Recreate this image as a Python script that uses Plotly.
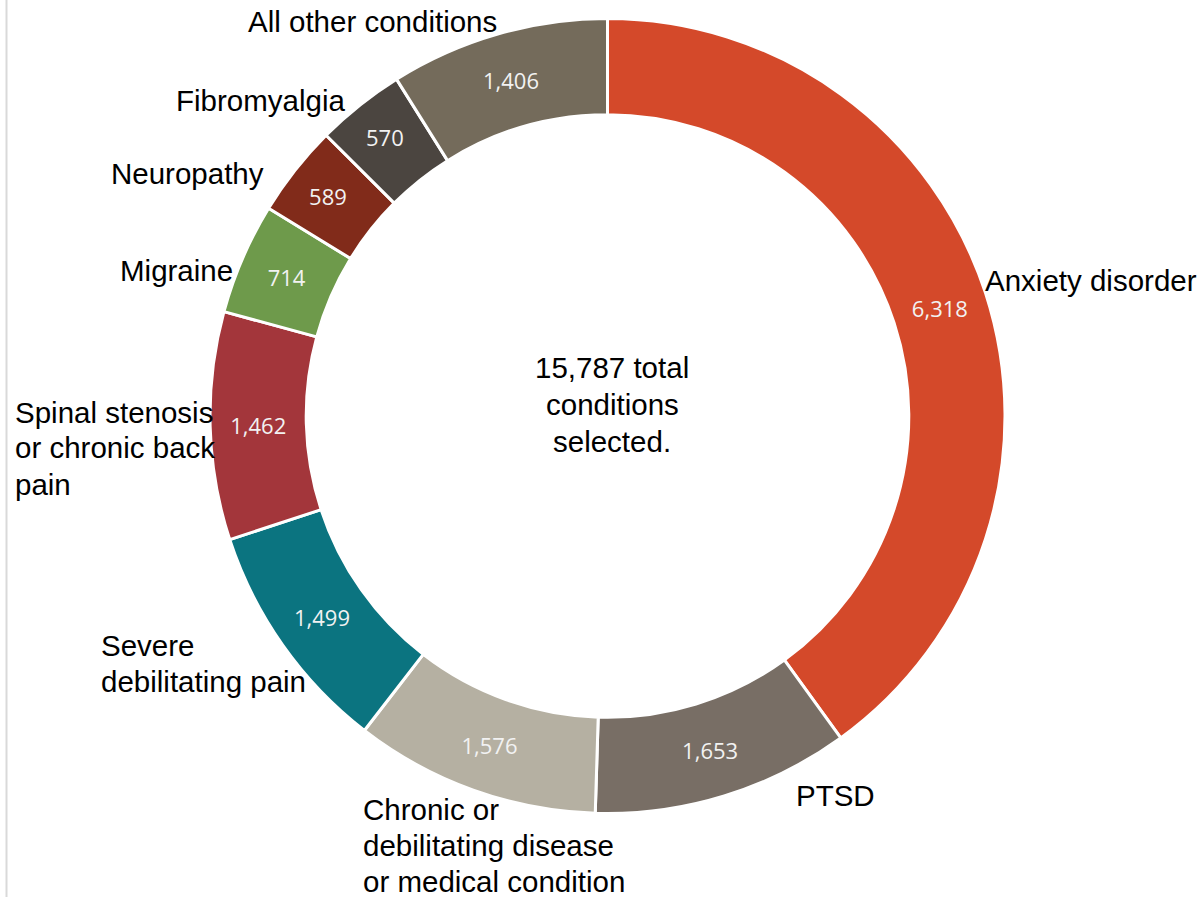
import plotly.graph_objects as go

W, H = 1201, 897

categories = ["Anxiety disorder", "PTSD", "Chronic or debilitating disease or medical condition",
              "Severe debilitating pain", "Spinal stenosis or chronic back pain", "Migraine",
              "Neuropathy", "Fibromyalgia", "All other conditions"]
values = [6318, 1653, 1576, 1499, 1462, 714, 589, 570, 1406]
colors = ["#D4492A", "#786E65", "#B5B0A2", "#0B7480", "#A3363B", "#6E9A4B",
          "#812B1A", "#4B4540", "#746B5B"]

# Display label lines (wrapped as in the reference)
label_lines = [["Anxiety disorder"], ["PTSD"],
               ["Chronic or", "debilitating disease", "or medical condition"],
               ["Severe", "debilitating pain"],
               ["Spinal stenosis", "or chronic back", "pain"],
               ["Migraine"], ["Neuropathy"], ["Fibromyalgia"], ["All other conditions"]]
# first-line anchor positions in pixels and horizontal alignment
label_pos = [(983, 280, "left"), (794, 795, "left"),
             (361, 809, "left"), (99, 645, "left"),
             (13, 412, "left"), (235, 270, "right"),
             (266, 174, "right"), (347, 101, "right"),
             (372, 22, "center")]
LINE = 36

total = sum(values)
center_lines = [f"{total:,} total", "conditions", "selected."]

cx, cy, R = 607.5, 416, 397.5
FONT = dict(family="Liberation Sans, Arial", size=29.5, color="#000000")

fig = go.Figure()
fig.add_trace(go.Pie(
    labels=categories, values=values, sort=False, direction="clockwise", rotation=0,
    hole=0.758,
    marker=dict(colors=colors, line=dict(color="white", width=3)),
    texttemplate="%{value:,}", textinfo="value", textposition="inside",
    insidetextorientation="horizontal",
    textfont=dict(family="Open Sans", size=22, color="#F2F2F2"),
    showlegend=False, hoverinfo="label+value",
    domain=dict(x=[(cx - R) / W, (cx + R) / W], y=[(H - cy - R) / H, (H - cy + R) / H]),
))

annotations = []
for lines, (px, py, xa) in zip(label_lines, label_pos):
    for i, line in enumerate(lines):
        annotations.append(dict(x=px / W, y=1 - (py + i * LINE) / H, xref="paper", yref="paper",
                                text=line, showarrow=False, xanchor=xa, yanchor="middle",
                                font=FONT))
for i, line in enumerate(center_lines):
    annotations.append(dict(x=612 / W, y=1 - (367 + i * 37) / H, xref="paper", yref="paper",
                            text=line, showarrow=False, xanchor="center", yanchor="middle",
                            font=FONT))

fig.update_layout(
    width=W, height=H, margin=dict(l=0, r=0, t=0, b=0),
    paper_bgcolor="white", plot_bgcolor="white",
    annotations=annotations,
    shapes=[dict(type="line", xref="paper", yref="paper", x0=6.5 / W, x1=6.5 / W, y0=0, y1=1,
                 line=dict(color="#D9D9D9", width=2))],
)

fig.write_html("out.html", config={"displayModeBar": False},
               post_script="document.body.style.margin='0';document.body.style.overflow='hidden';")
